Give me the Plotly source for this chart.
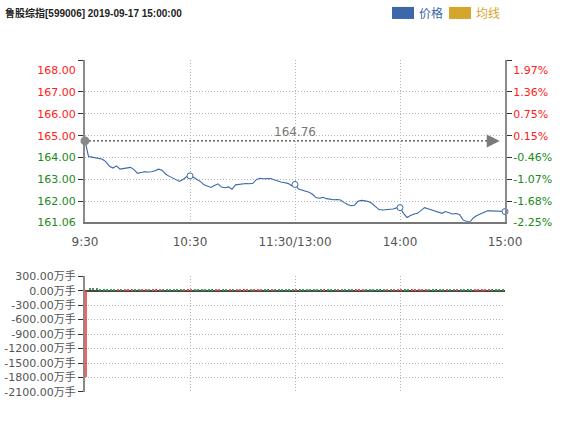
import plotly.graph_objects as go

# ---------------- data ----------------
title_text = "鲁股综指[599006] 2019-09-17 15:00:00"
prev_close = 164.76

# trading minutes since 9:30 (11:30 and 13:00 share minute 120)
minutes = list(range(0, 241, 2))

price = [
    164.76, 164.05, 164.02, 163.98, 163.95, 163.92, 163.80, 163.60, 163.52, 163.62,
    163.47, 163.50, 163.52, 163.55, 163.45, 163.28, 163.32, 163.35, 163.34, 163.35,
    163.40, 163.47, 163.42, 163.25, 163.15, 163.08, 162.98, 162.91, 163.00, 163.12,
    163.16, 163.10, 163.00, 162.90, 162.75, 162.68, 162.63, 162.72, 162.80, 162.65,
    162.62, 162.66, 162.55, 162.75, 162.78, 162.80, 162.81, 162.80, 162.82, 163.00,
    163.05, 163.03, 163.02, 163.04, 162.98, 162.92, 162.88, 162.85, 162.82, 162.72,
    162.77, 162.56, 162.52, 162.46, 162.41, 162.32, 162.17, 162.14, 162.18, 162.12,
    162.08, 162.07, 162.08, 162.06, 161.95, 161.85, 161.80, 161.82, 162.00, 162.04,
    162.02, 161.99, 161.90, 161.75, 161.62, 161.60, 161.62, 161.61, 161.65, 161.70,
    161.71, 161.45, 161.26, 161.35, 161.42, 161.45, 161.58, 161.71, 161.66, 161.61,
    161.55, 161.50, 161.45, 161.53, 161.48, 161.42, 161.44, 161.40, 161.15, 161.08,
    161.06, 161.25, 161.35, 161.42, 161.50, 161.57, 161.56, 161.55, 161.54, 161.53,
    161.53,
]

volume = [
    -1800, 45, 42, 44, 40, 38, 41, 36, 30, 28,
    32, 25, 22, 24, 26, 20, 22, 18, 20, 22,
    19, 18, 20, 17, 19, 16, 18, 20, 15, 17,
    16, 18, 15, 14, 17, 15, 16, 14, 13, 15,
    16, 14, 12, 15, 13, 14, 12, 13, 15, 14,
    12, 13, 11, 12, 14, 12, 11, 13, 12, 14,
    12, 16, 14, 13, 15, 14, 12, 13, 11, 12,
    13, 12, 11, 12, 14, 13, 12, 11, 13, 12,
    11, 12, 13, 12, 14, 12, 11, 12, 13, 12,
    14, 15, 13, 12, 14, 13, 12, 14, 13, 12,
    11, 12, 13, 12, 11, 12, 13, 14, 15, 13,
    14, 13, 12, 14, 13, 12, 13, 12, 14, 15,
    18,
]

marker_minutes = [60, 120, 180, 240]

x_tick_vals = [0, 60, 120, 180, 240]
x_tick_text = ["9:30", "10:30", "11:30/13:00", "14:00", "15:00"]

price_range = [161.06, 168.46]
price_label_vals = [161.06, 162, 163, 164, 165, 166, 167, 168]
price_grid_vals = [162, 163, 164, 165, 166, 167, 168.46]

vol_range = [-2100, 300]
vol_tick_vals = [300, 0, -300, -600, -900, -1200, -1500, -1800, -2100]

# ---------------- styling ----------------
RED = "#ff2020"
GREEN = "#1a8a1a"
BLUE = "#3a68a8"
GOLD = "#d6a62c"
AXIS = "#8a8a8a"
GRID = "#b4b4b4"
GDASH = "1px,2px"
FONT = "DejaVu Sans, Noto Sans CJK SC, sans-serif"

W, H = 584, 445
ML, MR, MT, MB = 85, 79, 60, 53.3
PW = W - ML - MR
PH = H - MT - MB


def px_x(p):
    return (p - ML) / PW


def px_y(p):
    return (H - MB - p) / PH


top_domain = [px_y(221.7), 1.0]
bot_domain = [0.0, px_y(276.0)]


def colored(txt, col):
    return f"<span style='color:{col}'>{txt}</span>"


price_text = [colored(f"{v:.2f}", RED if v > prev_close else GREEN) for v in price_label_vals]
pct_text = []
for v in price_label_vals:
    pct = (v - prev_close) / prev_close * 100
    pct_text.append(colored(f"{pct:.2f}%", RED if pct > 0 else GREEN))
vol_text = [f"{v:.2f}万手" for v in vol_tick_vals]

bar_colors = ["rgba(255,40,40,0.75)"]
for i in range(1, len(price)):
    bar_colors.append("#e85050" if price[i] >= price[i - 1] else "#3a9a5a")

fig = go.Figure()

# invisible anchors so that the overlay axes get drawn
for ax in ["y2", "y3", "y5"]:
    fig.add_trace(go.Scatter(
        x=[0], y=[prev_close], mode="markers", marker=dict(opacity=0, size=1),
        xaxis="x", yaxis=ax, hoverinfo="skip", showlegend=False,
    ))

# prev close reference line
fig.add_trace(go.Scatter(
    x=[0, 236], y=[prev_close, prev_close], mode="lines",
    line=dict(color="#444444", width=1.2, dash="2px,2px"),
    xaxis="x", yaxis="y", hoverinfo="skip", showlegend=False,
))
# price line
fig.add_trace(go.Scatter(
    x=minutes, y=price, mode="lines",
    line=dict(color=BLUE, width=1.1),
    xaxis="x", yaxis="y", showlegend=False, cliponaxis=False,
))
# hollow markers at session points
fig.add_trace(go.Scatter(
    x=marker_minutes, y=[price[minutes.index(m)] for m in marker_minutes],
    mode="markers",
    marker=dict(symbol="circle", size=6, color="white", line=dict(color=BLUE, width=1)),
    xaxis="x", yaxis="y", showlegend=False, cliponaxis=False,
))
# prev close dot and arrow
fig.add_trace(go.Scatter(
    x=[0], y=[prev_close], mode="markers",
    marker=dict(symbol="circle", size=9, color="#888888"),
    xaxis="x", yaxis="y", showlegend=False, cliponaxis=False,
))
fig.add_trace(go.Scatter(
    x=[237], y=[prev_close], mode="markers",
    marker=dict(symbol="arrow-right", size=13, color="#7a7a7a"),
    xaxis="x", yaxis="y", showlegend=False, cliponaxis=False,
))

# volume bars
fig.add_trace(go.Bar(
    x=minutes, y=volume, marker=dict(color=bar_colors, line=dict(width=0)),
    width=1.4, offset=0, xaxis="x2", yaxis="y4", showlegend=False,
))

fig.update_layout(
    width=W, height=H,
    margin=dict(l=ML, r=MR, t=MT, b=MB, pad=0, autoexpand=False),
    paper_bgcolor="white", plot_bgcolor="white",
    font=dict(family=FONT, size=11, color="#555555"),
    showlegend=False,
    bargap=0,
    title=dict(
        text=f"<b>{title_text}</b>", x=5 / W, y=1 - 13 / H, xref="container", yref="container",
        xanchor="left", yanchor="middle", automargin=False,
        font=dict(family="Liberation Sans, Noto Sans CJK SC, sans-serif", size=10, color="#222222"),
    ),
    xaxis=dict(
        domain=[0, 1], anchor="y", range=[0, 240], automargin=False,
        tickvals=x_tick_vals, ticktext=x_tick_text,
        ticks="outside", ticklen=8, tickcolor="rgba(0,0,0,0)",
        showgrid=True, gridcolor=GRID, griddash=GDASH, gridwidth=1,
        showline=True, linecolor="#777777", linewidth=2,
        zeroline=False, tickfont=dict(size=12, color="#555555"),
    ),
    yaxis=dict(
        domain=top_domain, anchor="x", range=price_range, automargin=False,
        tickvals=price_label_vals, ticktext=price_text,
        ticks="outside", ticklen=5, tickcolor="rgba(0,0,0,0)",
        showgrid=False, zeroline=False,
        showline=True, linecolor=AXIS, linewidth=2,
        tickfont=dict(size=11),
    ),
    yaxis3=dict(
        overlaying="y", anchor="x", side="left", range=price_range, automargin=False,
        tickvals=price_grid_vals, showticklabels=False,
        ticks="outside", ticklen=5, tickcolor="#333333", tickwidth=1,
        showgrid=True, gridcolor=GRID, griddash=GDASH, gridwidth=1,
        showline=True, linecolor=AXIS, linewidth=2,
        zeroline=False,
    ),
    yaxis5=dict(
        overlaying="y", anchor="x", side="right", range=price_range, automargin=False,
        tickvals=price_grid_vals, showticklabels=False,
        ticks="outside", ticklen=5, tickcolor="#333333", tickwidth=1,
        showgrid=False, showline=True, linecolor=AXIS, linewidth=2,
        zeroline=False,
    ),
    yaxis2=dict(
        overlaying="y", anchor="x", side="right", range=price_range, automargin=False,
        tickvals=price_label_vals, ticktext=pct_text,
        ticks="outside", ticklen=5, tickcolor="rgba(0,0,0,0)",
        showgrid=False, zeroline=False, showline=False,
        tickfont=dict(size=11),
    ),
    xaxis2=dict(
        domain=[0, 1], anchor="y4", range=[0, 240], automargin=False,
        tickvals=[60, 120, 180, 240], showticklabels=False,
        showgrid=True, gridcolor=GRID, griddash=GDASH, gridwidth=1,
        showline=False, zeroline=False, ticks="",
    ),
    yaxis4=dict(
        domain=bot_domain, anchor="x2", range=vol_range, automargin=False,
        tickvals=vol_tick_vals, ticktext=vol_text,
        ticks="outside", ticklen=5, tickcolor="#333333",
        showgrid=True, gridcolor=GRID, griddash=GDASH, gridwidth=1,
        showline=True, linecolor=AXIS, linewidth=2,
        zeroline=True, zerolinecolor="#444444", zerolinewidth=1.5,
        tickfont=dict(size=11, color="#555555"),
    ),
)

# prev close label
fig.add_annotation(
    x=120, y=prev_close, xref="x", yref="y", text=f"{prev_close:.2f}",
    showarrow=False, yshift=9, font=dict(size=12, color="#777777"),
)

# legend boxes
fig.add_shape(type="rect", xref="paper", yref="paper",
              x0=px_x(392), x1=px_x(414), y0=px_y(19), y1=px_y(7),
              fillcolor=BLUE, line=dict(width=0))
fig.add_shape(type="rect", xref="paper", yref="paper",
              x0=px_x(449), x1=px_x(471), y0=px_y(19), y1=px_y(7),
              fillcolor=GOLD, line=dict(width=0))
fig.add_annotation(x=px_x(417), y=px_y(13), xref="paper", yref="paper", text="价格",
                   showarrow=False, xanchor="left", yanchor="middle",
                   font=dict(size=12, color=BLUE, family="Noto Sans CJK SC"))
fig.add_annotation(x=px_x(474), y=px_y(13), xref="paper", yref="paper", text="均线",
                   showarrow=False, xanchor="left", yanchor="middle",
                   font=dict(size=12, color=GOLD, family="Noto Sans CJK SC"))

fig.write_html("out.html", config={"displayModeBar": False},
               post_script="document.body.style.margin='0px';")
